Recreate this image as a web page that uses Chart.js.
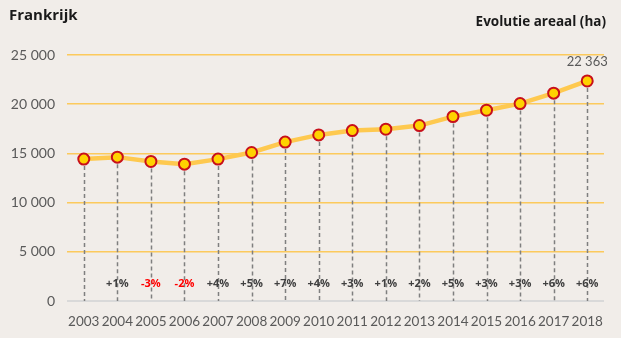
<!DOCTYPE html>
<html><head><meta charset="utf-8">
<script src="https://cdn.jsdelivr.net/npm/chart.js@4"></script>
<style>html,body{margin:0;padding:0;background:#f1ede9;}#wrap{width:621px;height:338px;position:relative;}</style>
</head><body><div id="wrap"><canvas id="c" width="621" height="338"></canvas></div>
<script>
const years = ['2003','2004','2005','2006','2007','2008','2009','2010','2011','2012','2013','2014','2015','2016','2017','2018'];
const areaal = [14420,14620,14180,13910,14420,15090,16150,16880,17320,17460,17830,18740,19390,20060,21120,22363];
const pctLabels = ['','+1%','-3%','-2%','+4%','+5%','+7%','+4%','+3%','+1%','+2%','+5%','+3%','+3%','+6%','+6%'];
const yTicks = [0,5000,10000,15000,20000,25000];
const title = 'Frankrijk';
const subtitle = 'Evolutie areaal (ha)';
const lastLabel = '22 363';

function fmt(v){return String(v).replace(/\B(?=(\d{3})+(?!\d))/g,' ');}

const overlay = {
  id:'overlay',
  beforeDatasetsDraw(chart){
    const ctx=chart.ctx, meta=chart.getDatasetMeta(0), y0=chart.scales.y.getPixelForValue(0);
    ctx.save();
    ctx.strokeStyle='#7f7f7f'; ctx.lineWidth=1.5; ctx.setLineDash([4,3]);
    meta.data.forEach(p=>{ctx.beginPath();ctx.moveTo(Math.round(p.x)+0.5,p.y);ctx.lineTo(Math.round(p.x)+0.5,y0);ctx.stroke();});
    ctx.restore();
  },
  afterDatasetsDraw(chart){
    const ctx=chart.ctx, meta=chart.getDatasetMeta(0);
    ctx.save();
    ctx.font='bold 11px "Open Sans", sans-serif'; ctx.textAlign='center'; ctx.textBaseline='middle';
    meta.data.forEach((p,i)=>{
      const t=pctLabels[i]; if(!t) return;
      ctx.fillStyle = t.startsWith('-') ? '#ff0000' : '#404040';
      ctx.fillText(t,p.x,284);
    });
    const last=meta.data[meta.data.length-1];
    ctx.font='13px Lato, sans-serif'; ctx.fillStyle='#595959'; ctx.textAlign='center';
    ctx.fillText(lastLabel,last.x,62);
    ctx.font='bold 15px "Open Sans", sans-serif'; ctx.fillStyle='#1a1a1a'; ctx.textAlign='left';
    ctx.fillText(title,9,16);
    ctx.font='bold 13.5px "Open Sans", sans-serif'; ctx.textAlign='right';
    ctx.fillText(subtitle,606,22);
    ctx.restore();
  }
};

new Chart(document.getElementById('c'),{
  type:'line',
  data:{labels:years,datasets:[{
    data:areaal,borderColor:'#fec94f',borderWidth:4.5,tension:0,
    pointRadius:5.5,pointBackgroundColor:'#ffd200',pointBorderColor:'#c8101a',pointBorderWidth:2,
  }]},
  options:{
    responsive:false,animation:false,
    layout:{padding:{top:55,right:17,left:0,bottom:0}},
    plugins:{legend:{display:false},tooltip:{enabled:false}},
    scales:{
      x:{offset:true,grid:{display:false},border:{display:false},
        ticks:{color:'#595959',font:{family:'Lato',size:13.5},padding:5,maxRotation:0,autoSkip:false},
        afterFit(s){s.height=37;}},
      y:{min:0,max:25000,
        afterBuildTicks(s){s.ticks=yTicks.map(v=>({value:v}));},
        grid:{color:c=>c.tick.value===0?'#d9d9d9':'#fcca5c',lineWidth:c=>c.tick.value===0?2:1.5,drawTicks:false},
        border:{display:false},
        ticks:{color:'#595959',font:{family:'Lato',size:14},padding:12,callback:v=>fmt(v)},
        afterFit(s){s.width=67;}}
    }
  },
  plugins:[overlay]
});
</script></body></html>
